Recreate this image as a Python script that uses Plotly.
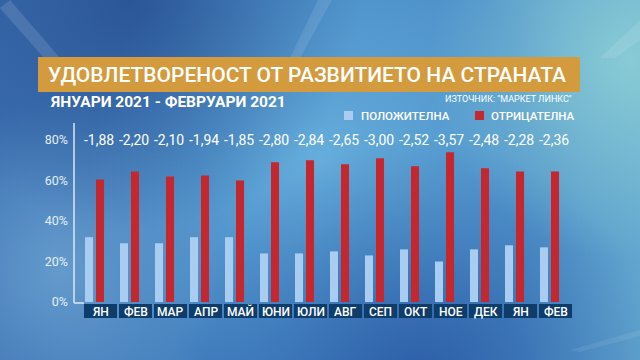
import base64
import plotly.graph_objects as go

# ---------------- data ----------------
months = ["ЯН", "ФЕВ", "МАР", "АПР", "МАЙ", "ЮНИ", "ЮЛИ", "АВГ", "СЕП", "ОКТ", "НОЕ", "ДЕК", "ЯН", "ФЕВ"]
positive = [32, 29, 29, 32, 32, 24, 24, 25, 23, 26, 20, 26, 28, 27]
negative = [60.5, 64.5, 62, 62.5, 60, 69, 70, 68, 71, 67, 74, 66, 64.5, 64.5]
balance = [-1.88, -2.20, -2.10, -1.94, -1.85, -2.80, -2.84, -2.65, -3.00, -2.52, -3.57, -2.48, -2.28, -2.36]
y_ticks = [0, 20, 40, 60, 80]
y_tick_labels = ["0%", "20%", "40%", "60%", "80%"]
series_names = ["ПОЛОЖИТЕЛНА", "ОТРИЦАТЕЛНА"]
title_text = "УДОВЛЕТВОРЕНОСТ ОТ РАЗВИТИЕТО НА СТРАНАТА"
subtitle_text = "ЯНУАРИ 2021 - ФЕВРУАРИ 2021"
source_text = 'ИЗТОЧНИК: "МАРКЕТ ЛИНКС"'

idx = list(range(len(months)))

# ---------------- geometry ----------------
W, H = 640, 360
L, R, T, B = 74, 574, 123, 302


def px(x):
    return (x - L) / (R - L)


def py(y):
    return (B - y) / (B - T)


LIGHT = "#a9cdf0"
RED = "#c4272d"
BOX = "#0e3c6b"
FONT = "Roboto"

# ---------------- background (svg gradient) ----------------
svg = f"""<svg xmlns='http://www.w3.org/2000/svg' width='{W}' height='{H}' viewBox='0 0 {W} {H}'>
<defs>
<linearGradient id='base' x1='0' y1='0' x2='1' y2='0'>
<stop offset='0' stop-color='#3c70b2'/>
<stop offset='0.45' stop-color='#4688c6'/>
<stop offset='0.8' stop-color='#4f92ca'/>
<stop offset='1' stop-color='#62a6cf'/>
</linearGradient>
<radialGradient id='tr' cx='630' cy='60' r='200' gradientUnits='userSpaceOnUse'>
<stop offset='0' stop-color='#8fd2d6' stop-opacity='0.85'/>
<stop offset='1' stop-color='#8fd2d6' stop-opacity='0'/>
</radialGradient>
<radialGradient id='tl' cx='130' cy='0' r='230' gradientUnits='userSpaceOnUse'>
<stop offset='0' stop-color='#24498a' stop-opacity='0.75'/>
<stop offset='1' stop-color='#24498a' stop-opacity='0'/>
</radialGradient>
<radialGradient id='bc' cx='420' cy='390' r='250' gradientUnits='userSpaceOnUse'>
<stop offset='0' stop-color='#2553a0' stop-opacity='0.85'/>
<stop offset='1' stop-color='#2553a0' stop-opacity='0'/>
</radialGradient>
<radialGradient id='ml' cx='60' cy='270' r='170' gradientUnits='userSpaceOnUse'>
<stop offset='0' stop-color='#70a8d4' stop-opacity='0.75'/>
<stop offset='1' stop-color='#70a8d4' stop-opacity='0'/>
</radialGradient>
<radialGradient id='mc' cx='320' cy='160' r='230' gradientUnits='userSpaceOnUse'>
<stop offset='0' stop-color='#6cb6e0' stop-opacity='0.8'/>
<stop offset='1' stop-color='#6cb6e0' stop-opacity='0'/>
</radialGradient>
</defs>
<rect width='{W}' height='{H}' fill='url(#base)'/>
<rect width='{W}' height='{H}' fill='url(#mc)'/>
<rect width='{W}' height='{H}' fill='url(#ml)'/>
<rect width='{W}' height='{H}' fill='url(#tl)'/>
<rect width='{W}' height='{H}' fill='url(#bc)'/>
<rect width='{W}' height='{H}' fill='url(#tr)'/>
<polygon points='0,8 10,0 60,58 44,58' fill='#ffffff' fill-opacity='0.12'/>
<polygon points='318,0 332,0 300,58 290,58' fill='#ffffff' fill-opacity='0.10'/>
<polygon points='600,58 640,20 640,40 615,58' fill='#ffffff' fill-opacity='0.10'/>
<polygon points='570,350 640,330 640,336 580,352' fill='#ffffff' fill-opacity='0.08'/>
</svg>"""
bg_uri = "data:image/svg+xml;base64," + base64.b64encode(svg.encode("utf-8")).decode("ascii")

# ---------------- figure ----------------
fig = go.Figure()
fig.add_trace(go.Bar(x=idx, y=positive, name=series_names[0], marker_color=LIGHT,
                     marker_line_width=0, offset=-0.271, width=0.229))
fig.add_trace(go.Bar(x=idx, y=negative, name=series_names[1], marker_color=RED,
                     marker_line_width=0, offset=0.043, width=0.229))

shapes = []
annotations = []

# title banner
shapes.append(dict(type="rect", xref="paper", yref="paper", x0=px(38), x1=px(580), y0=py(92), y1=py(57),
                   fillcolor="#d49a3e", line_width=0, layer="below"))
annotations.append(dict(text=title_text, xref="paper", yref="paper", x=px(46), y=py(74.5),
                        xanchor="left", yanchor="middle", showarrow=False,
                        font=dict(family=FONT, size=21, color="white", weight=500)))
annotations.append(dict(text=subtitle_text, xref="paper", yref="paper", x=px(48), y=py(102),
                        xanchor="left", yanchor="middle", showarrow=False,
                        font=dict(family=FONT, size=15.5, color="white", weight="bold")))
annotations.append(dict(text=source_text, xref="paper", yref="paper", x=px(574), y=py(99),
                        xanchor="right", yanchor="middle", showarrow=False,
                        font=dict(family=FONT, size=9, color="white")))

# legend
for (sx, tx, col, name) in [(344, 359, LIGHT, series_names[0]), (475, 489, RED, series_names[1])]:
    shapes.append(dict(type="rect", xref="paper", yref="paper", x0=px(sx), x1=px(sx + 9),
                       y0=py(120), y1=py(111), fillcolor=col, line_width=0))
    annotations.append(dict(text=name, xref="paper", yref="paper", x=px(tx), y=py(115.5),
                            xanchor="left", yanchor="middle", showarrow=False,
                            font=dict(family=FONT, size=11.5, color="white", weight=500)))

# balance labels above groups
for i, v in zip(idx, balance):
    annotations.append(dict(text=f"{v:.2f}".replace(".", ","), x=i, y=80, xref="x", yref="y",
                            xshift=4, showarrow=False, yanchor="middle",
                            font=dict(family=FONT, size=14, color="white")))

# month label boxes
for i, m in zip(idx, months):
    shapes.append(dict(type="rect", xref="x", yref="paper", x0=i - 0.3, x1=i + 0.643,
                       y0=py(318), y1=py(304), fillcolor=BOX, line_width=0))
    annotations.append(dict(text=m, x=i, xref="x", yref="paper", y=py(311.5), xshift=6,
                            showarrow=False, yanchor="middle",
                            font=dict(family=FONT, size=12, color="white", weight=500)))

# axis line with corner segment
shapes.append(dict(type="line", xref="paper", yref="paper", x0=px(74), x1=px(84), y0=py(303), y1=py(303),
                   line=dict(color="#dce7f1", width=1.5)))
shapes.append(dict(type="line", xref="paper", yref="paper", x0=px(74), x1=px(74), y0=py(303), y1=py(123),
                   line=dict(color="#dce7f1", width=1.5)))

fig.update_layout(
    width=W, height=H,
    margin=dict(l=L, r=W - R, t=T, b=H - B, pad=0),
    paper_bgcolor="#4584c2",
    plot_bgcolor="rgba(0,0,0,0)",
    barmode="overlay",
    showlegend=False,
    shapes=shapes,
    annotations=annotations,
    images=[dict(source=bg_uri, xref="paper", yref="paper", x=px(0), y=py(0),
                 sizex=W / (R - L), sizey=H / (B - T), xanchor="left", yanchor="top",
                 sizing="stretch", layer="below")],
    xaxis=dict(range=[-0.586, 13.7], showticklabels=False, showgrid=False, zeroline=False,
               showline=False, ticks=""),
    yaxis=dict(range=[0, 88.4], tickvals=y_ticks, ticktext=y_tick_labels, showgrid=False,
               zeroline=False, showline=False, ticks="", ticklabelstandoff=5,
               tickfont=dict(family=FONT, size=12.5, color="#e6eef6")),
)

fig.write_html("out.html", config={"displayModeBar": False},
               post_script="document.body.style.margin='0';document.body.style.overflow='hidden';")
